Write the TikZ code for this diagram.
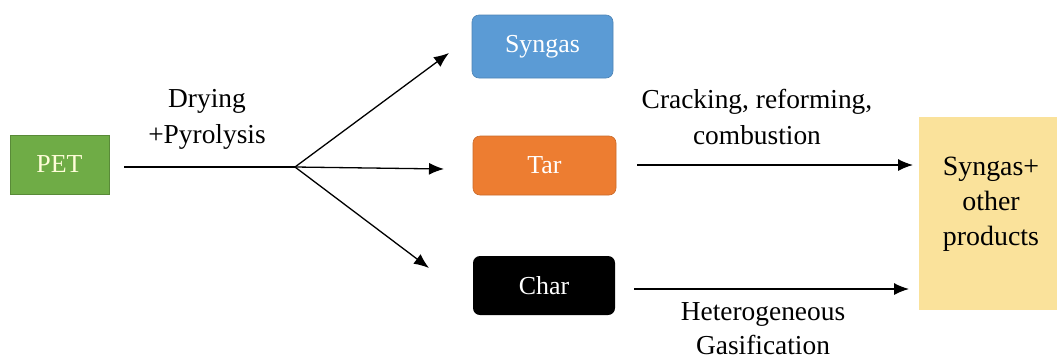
\documentclass[tikz,border=0pt]{standalone}
\usepackage{fontspec}
\setmainfont{Liberation Serif}
\usetikzlibrary{arrows.meta}
\definecolor{petgreen}{HTML}{6FAC46}
\definecolor{synblue}{HTML}{5B9BD5}
\definecolor{tarorange}{HTML}{ED7D31}
\definecolor{prodyellow}{HTML}{FAE29B}
\tikzset{
  box/.style={inner sep=0pt, font=\rmfamily\fontsize{26}{30}\selectfont, text=white},
  rbox/.style={box, rounded corners=7bp},
  lbl/.style={font=\rmfamily\fontsize{27.5}{36}\selectfont, align=center, inner sep=0pt},
  arr/.style={draw=black, line width=1.3bp, -{Latex[length=15bp,width=12bp]}}
}
\begin{document}
\begin{tikzpicture}[x=1bp,y=-1bp]
\useasboundingbox (0,0) rectangle (1057,361);
\fill[white] (0,0) rectangle (1057,361);
% boxes
\node[box, fill=petgreen, draw=petgreen!80!black, line width=0.6bp, minimum width=99bp, minimum height=59bp, text=yellow!15!white] (pet) at (59.5,164.5) {PET};
\node[rbox, fill=synblue, draw=synblue!85!black, line width=0.6bp, minimum width=141bp, minimum height=63bp] (syn) at (542.5,46.5) {Syngas};
\node[rbox, fill=tarorange, draw=tarorange!85!black, line width=0.6bp, minimum width=143bp, minimum height=59bp] (tar) at (544.5,165.5) {Tar};
\node[rbox, fill=black, minimum width=142bp, minimum height=59bp] (char) at (544,285.5) {Char};
\node[fill=prodyellow, minimum width=138bp, minimum height=193bp, inner sep=0pt] (prod) at (988,213.5) {};
\node[lbl, font=\rmfamily\fontsize{28}{35}\selectfont] (prodtext) at (991,204) {Syngas+\\other\\products};
% connectors
\coordinate (j) at (295,167);
\coordinate (petout) at (124,167);
\coordinate (synin) at (449,53);
\coordinate (tarin) at (444,169);
\coordinate (charin) at (429,268);
\coordinate (tarout) at (637,165);
\coordinate (prodtar) at (913,165);
\coordinate (charout) at (634,289);
\coordinate (prodchar) at (909,289);
\draw[line width=1.3bp] (petout) -- (j);
\draw[arr] (j) -- (synin);
\draw[arr] (j) -- (tarin);
\draw[arr] (j) -- (charin);
\draw[arr] (tarout) -- (prodtar);
\draw[arr] (charout) -- (prodchar);
% labels
\node[lbl] (l1) at (207,119) {Drying\\+Pyrolysis};
\node[lbl] (l2) at (757,117) {Cracking, reforming,\\combustion};
\node[lbl, font=\rmfamily\fontsize{27.5}{34}\selectfont] (l3) at (763,329) {Heterogeneous\\Gasification};
\end{tikzpicture}
\end{document}
